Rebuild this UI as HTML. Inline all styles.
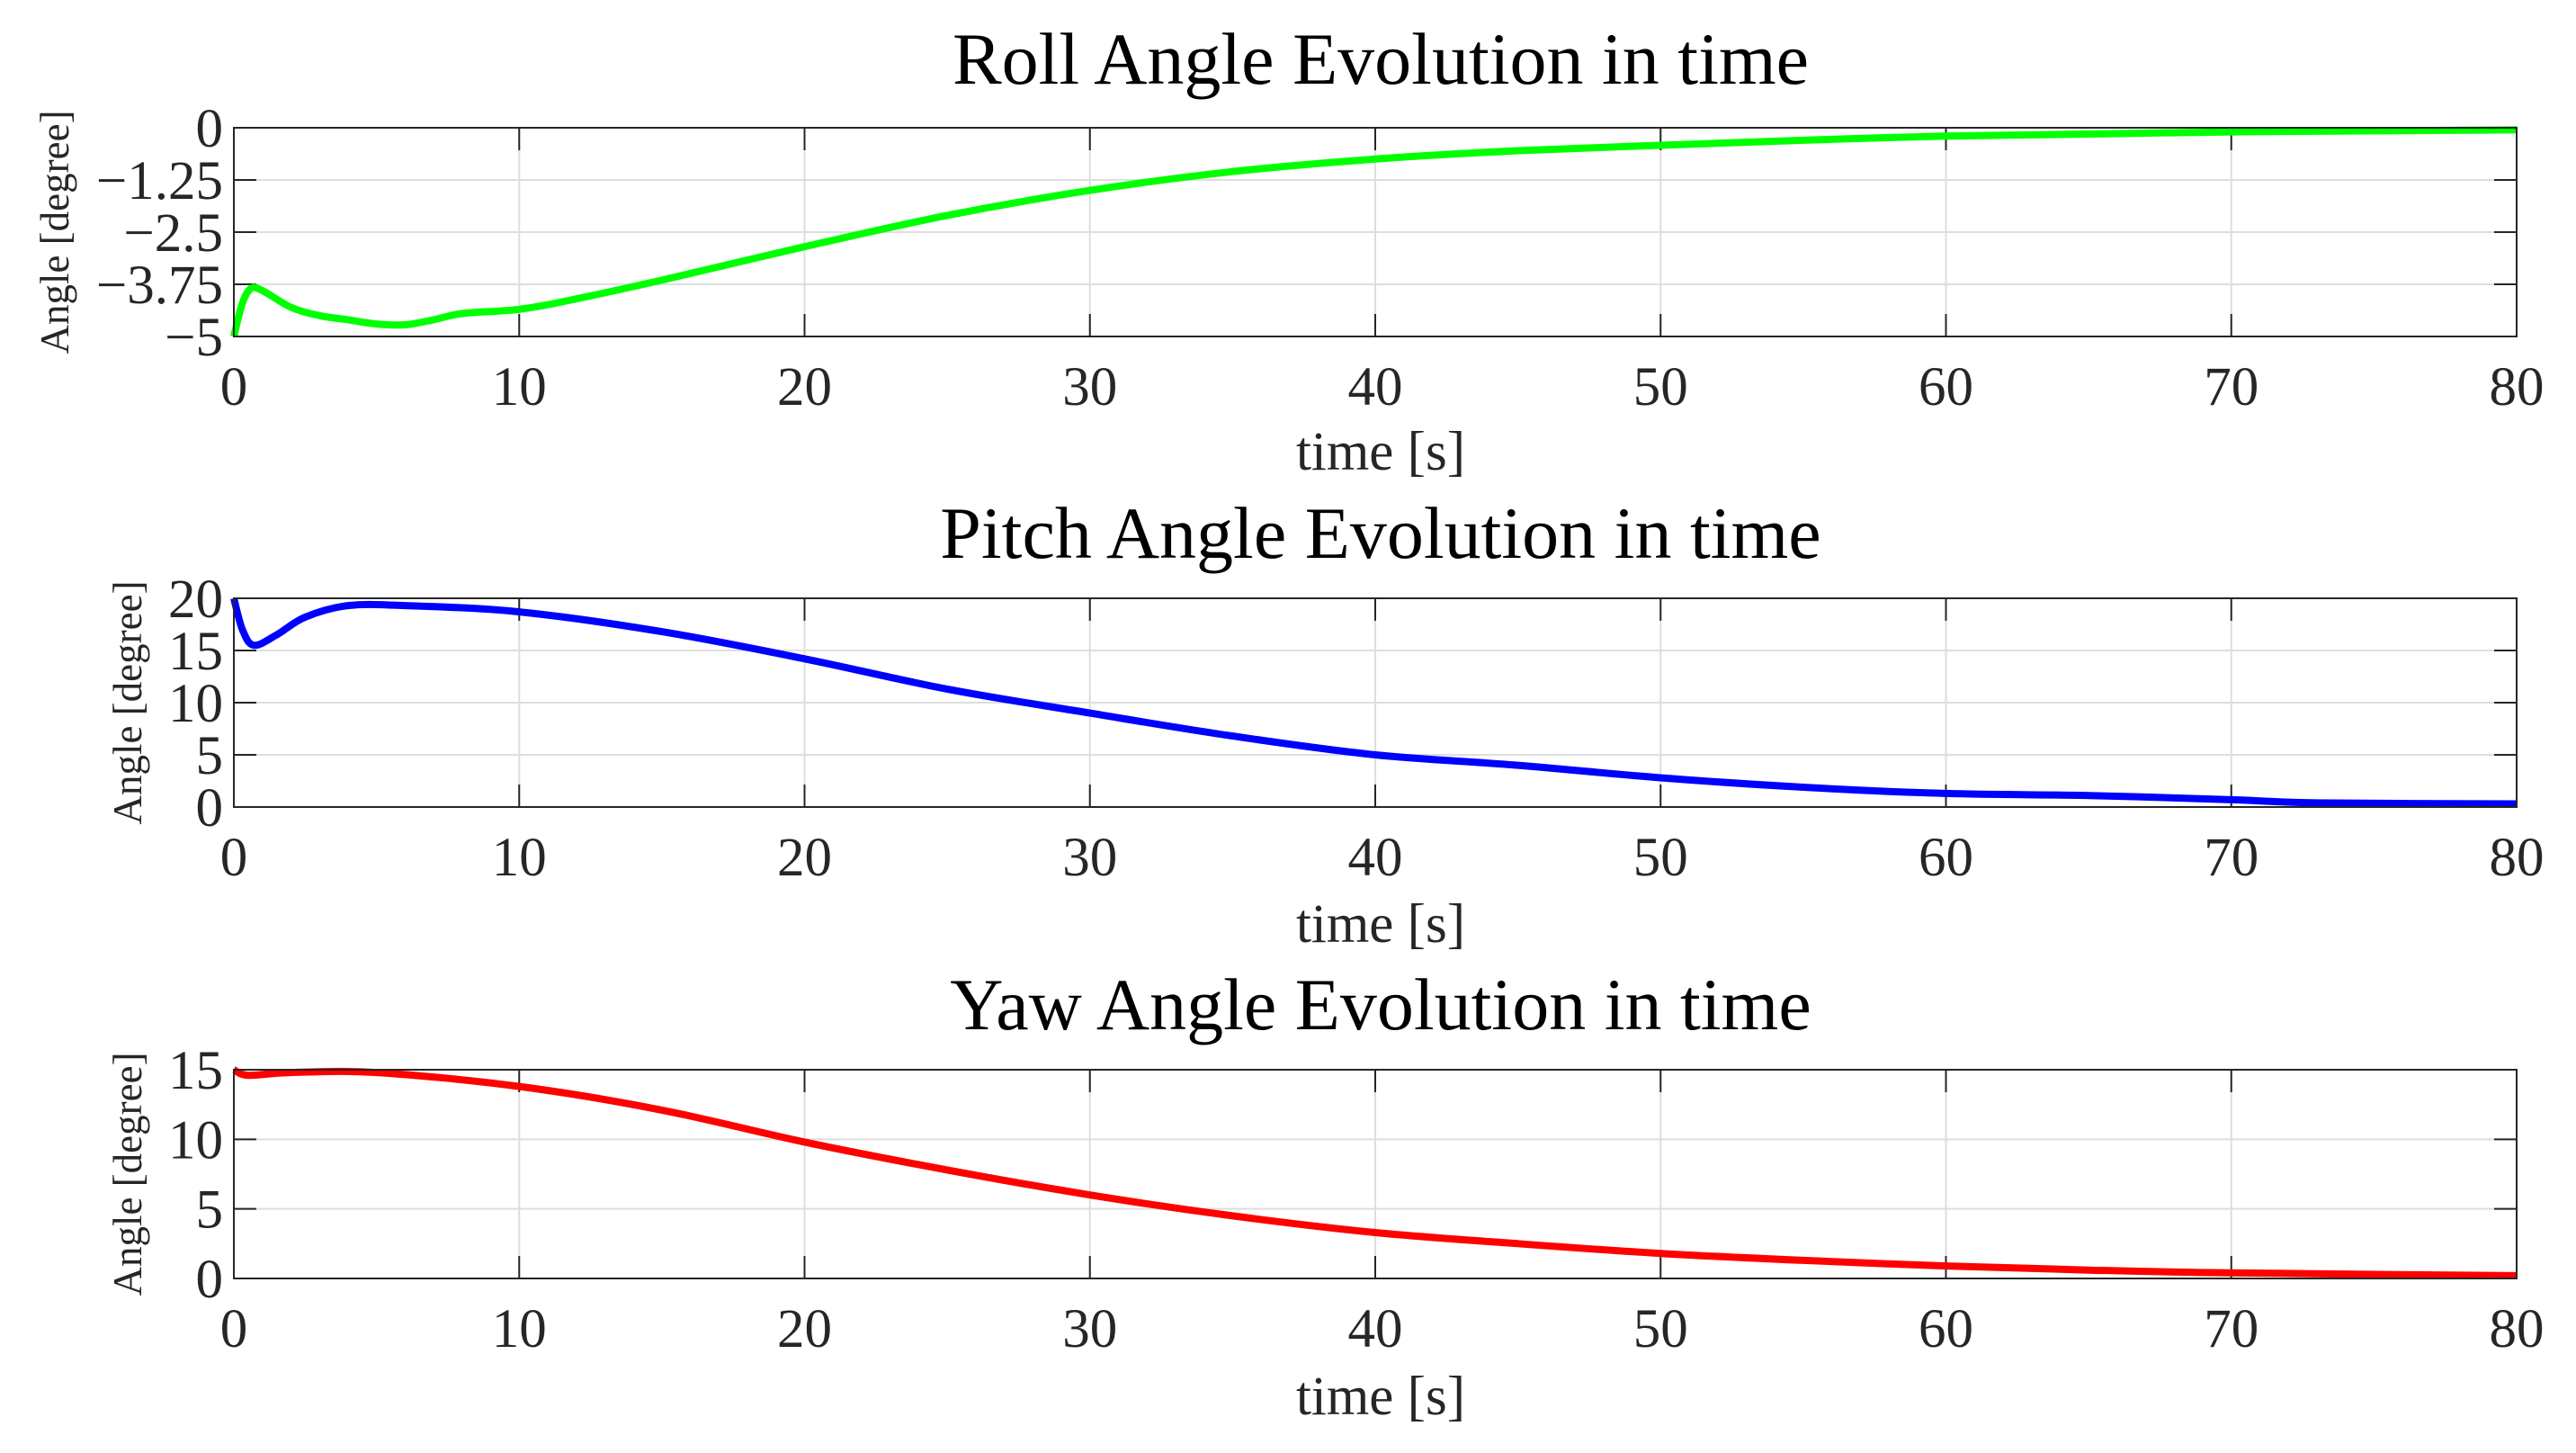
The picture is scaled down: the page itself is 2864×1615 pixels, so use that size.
<!DOCTYPE html>
<html><head><meta charset="utf-8"><style>
html,body{margin:0;padding:0;background:#fff;}
svg{display:block;font-family:"Liberation Serif",serif;}
</style></head><body>
<svg id="chart" width="2864" height="1615" viewBox="0 0 2864 1615"></svg>
<script>
const rollT=[0,0.3,0.6,1,2,3,4,5,6,7,8,10,12,15,20,25,30,35,40,45,50,55,60,65,70,80];
const rollV=[-5,-4.2,-3.85,-3.9,-4.3,-4.5,-4.6,-4.7,-4.72,-4.6,-4.45,-4.35,-4.1,-3.65,-2.85,-2.1,-1.5,-1.05,-0.75,-0.55,-0.42,-0.3,-0.2,-0.15,-0.1,-0.05];
const pitchT=[0,0.3,0.7,1.5,2.5,4,6,10,15,20,25,30,35,40,45,50,55,60,65,70,73,80];
const pitchV=[20,17,15.5,16.5,18.2,19.3,19.3,18.7,16.8,14.2,11.3,9,6.8,5,4,2.8,1.9,1.3,1.1,0.7,0.4,0.3];
const yawT=[0,0.5,2,5,10,15,20,25,30,35,40,45,50,55,60,65,70,80];
const yawV=[15,14.6,14.8,14.8,13.8,12.1,9.8,7.8,6,4.5,3.3,2.5,1.8,1.3,0.9,0.6,0.4,0.2];
const xTicks=[0,10,20,30,40,50,60,70,80];
const rollTicks=[0,-1.25,-2.5,-3.75,-5];
const rollLabels=["0","\u22121.25","\u22122.5","\u22123.75","\u22125"];
const pitchTicks=[0,5,10,15,20];
const yawTicks=[0,5,10,15];

const svg=document.getElementById('chart');
const NS='http://www.w3.org/2000/svg';
function mk(tag,attrs,parent){const e=document.createElementNS(NS,tag);for(const k in attrs)e.setAttribute(k,attrs[k]);(parent||svg).appendChild(e);return e;}
const L=260,R=2798,H=232;
function xs(t){return L+(t-0)/(80-0)*(R-L);}
function smoothPath(P){
  let d='M'+P[0][0].toFixed(1)+','+P[0][1].toFixed(1);
  for(let i=0;i<P.length-1;i++){
    const p0=P[Math.max(i-1,0)],p1=P[i],p2=P[i+1],p3=P[Math.min(i+2,P.length-1)];
    const c1x=p1[0]+(p2[0]-p0[0])/6,c1y=p1[1]+(p2[1]-p0[1])/6;
    const c2x=p2[0]-(p3[0]-p1[0])/6,c2y=p2[1]-(p3[1]-p1[1])/6;
    d+=` C${c1x.toFixed(1)},${c1y.toFixed(1)} ${c2x.toFixed(1)},${c2y.toFixed(1)} ${p2[0].toFixed(1)},${p2[1].toFixed(1)}`;
  }
  return d;
}

function panel(key,top,ymin,ymax,yt,ylab,title,T,V,color,ylx,tickY,timeY,titleY){
  const g=mk('g',{});
  
  
  const ys=v=>top+H-(v-ymin)/(ymax-ymin)*H;
  xTicks.forEach(t=>{
    const gl=mk('line',{x1:xs(t),x2:xs(t),y1:top,y2:top+H,stroke:'#dedede','stroke-width':2},g);
    
  });
  yt.forEach(v=>{
    const gl=mk('line',{x1:L,x2:R,y1:ys(v),y2:ys(v),stroke:'#dedede','stroke-width':2},g);
    
  });
  xTicks.forEach(t=>{
    mk('line',{x1:xs(t),x2:xs(t),y1:top+H,y2:top+H-25,stroke:'#262626','stroke-width':2},g);
    mk('line',{x1:xs(t),x2:xs(t),y1:top,y2:top+25,stroke:'#262626','stroke-width':2},g);
    const tx=mk('text',{x:xs(t),y:tickY,'text-anchor':'middle','font-size':61,fill:'#262626'},g);
    tx.textContent=String(t);
    
  });
  yt.forEach((v,i)=>{
    mk('line',{x1:L,x2:L+25,y1:ys(v),y2:ys(v),stroke:'#262626','stroke-width':2},g);
    mk('line',{x1:R,x2:R-25,y1:ys(v),y2:ys(v),stroke:'#262626','stroke-width':2},g);
    const tx=mk('text',{x:L-12,y:ys(v)+21,'text-anchor':'end','font-size':61,fill:'#262626'},g);
    tx.textContent=ylab?ylab[i]:String(v);
    
  });
  const P=T.map((t,i)=>[xs(t),ys(V[i])]);
  const p=mk('path',{d:smoothPath(P),fill:'none',stroke:color,'stroke-width':8,'stroke-linejoin':'round'},g);
  
  const box=mk('rect',{x:L,y:top,width:R-L,height:H,fill:'none',stroke:'#262626','stroke-width':2},g);
  
  const ti=mk('text',{x:1535,y:titleY,'text-anchor':'middle','font-size':82,fill:'#000'},g);
  ti.textContent=title;
  
  const xl=mk('text',{x:1535,y:timeY,'text-anchor':'middle','font-size':61,fill:'#262626'},g);
  xl.textContent='time [s]';
  
  const yl=mk('text',{x:0,y:0,'text-anchor':'middle','font-size':45,fill:'#262626',transform:`translate(${ylx},${top+H/2}) rotate(-90)`},g);
  yl.textContent='Angle [degree]';
  
}
panel('roll',142,-5,0,rollTicks,rollLabels,'Roll Angle Evolution in time',rollT,rollV,'#00ff00',76,450,522,93);
panel('pitch',665,0,20,pitchTicks,null,'Pitch Angle Evolution in time',pitchT,pitchV,'#0000ff',157,973,1047,620);
panel('yaw',1189,0,15,yawTicks,null,'Yaw Angle Evolution in time',yawT,yawV,'#ff0000',157,1497,1572,1144);
</script>
</body></html>
